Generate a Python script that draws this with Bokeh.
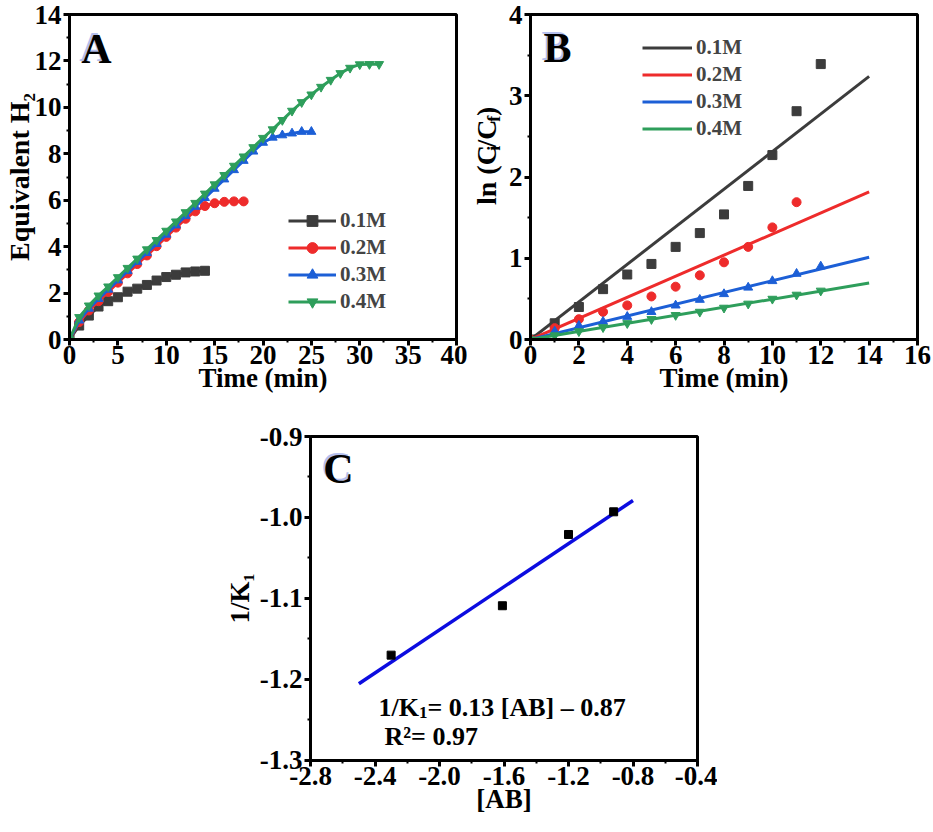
import numpy as np
from bokeh.plotting import figure
from bokeh.models import (Label, Legend, LegendItem, SingleIntervalTicker, Range1d,
                          PrintfTickFormatter)
from bokeh.core.properties import value
from bokeh.layouts import column, row, Spacer
from bokeh.embed import file_html
from bokeh.resources import INLINE

# ---------------- data ----------------
series_labels = ["0.1M", "0.2M", "0.3M", "0.4M"]
series_colors = ["#3c3c3c", "#ee2b2b", "#1c5fd6", "#2e9e5b"]
series_markers = ["square", "circle", "triangle", "inverted_triangle"]

# Panel A: equivalent H2 vs time (min)
time_a_01 = list(range(0, 15))
eq_h2_01 = [0, 0.60, 1.03, 1.42, 1.65, 1.82, 2.06, 2.19, 2.35, 2.54, 2.69, 2.79, 2.89, 2.93, 2.96]
time_a_02 = list(range(0, 19))
eq_h2_02 = [0, 0.75, 1.25, 1.65, 2.05, 2.45, 2.85, 3.25, 3.62, 4.02, 4.42, 4.82, 5.20, 5.52,
            5.75, 5.87, 5.93, 5.95, 5.95]
time_a_03 = list(range(0, 26))
eq_h2_03 = [0, 0.82, 1.33, 1.75, 2.15, 2.55, 2.95, 3.35, 3.73, 4.12, 4.52, 4.92, 5.32, 5.72,
            6.10, 6.50, 6.90, 7.30, 7.70, 8.10, 8.48, 8.70, 8.80, 8.88, 8.95, 8.95]
time_a_04 = list(range(0, 33))
eq_h2_04 = [0, 0.96, 1.46, 1.89, 2.28, 2.68, 3.08, 3.48, 3.88, 4.28, 4.68, 5.08, 5.48, 5.88,
            6.28, 6.68, 7.08, 7.48, 7.88, 8.28, 8.68, 9.05, 9.45, 9.85, 10.22, 10.55, 10.88,
            11.18, 11.47, 11.70, 11.85, 11.86, 11.86]

# Panel B: ln(Ci/Cf) vs time (min)
time_b_01 = list(range(0, 13))
lnc_01 = [0, 0.20, 0.40, 0.62, 0.80, 0.93, 1.14, 1.31, 1.54, 1.89, 2.27, 2.81, 3.39]
time_b_02 = list(range(0, 12))
lnc_02 = [0, 0.14, 0.25, 0.34, 0.42, 0.53, 0.65, 0.79, 0.95, 1.14, 1.38, 1.69]
time_b_03 = list(range(0, 13))
lnc_03 = [0, 0.10, 0.17, 0.22, 0.28, 0.34, 0.42, 0.49, 0.56, 0.64, 0.72, 0.81, 0.90]
time_b_04 = list(range(0, 13))
lnc_04 = [0, 0.05, 0.10, 0.15, 0.20, 0.25, 0.30, 0.34, 0.39, 0.44, 0.50, 0.55, 0.60]
fit_time_b = [0, 14]

# Panel C: 1/K1 vs [AB]
ab_c = [-2.30, -1.61, -1.20, -0.92]
inv_k1_c = [-1.170, -1.109, -1.021, -0.993]
fit_ab_c = [-2.5, -0.8]

FONT = "Liberation Serif"
TICK_SIZE = "27px"
TITLE_SIZE = "27px"

# layout geometry (page pixels)
TOP_H = 413          # height of the top row
FRAME_W = 387


def style(p):
    p.outline_line_color = "black"
    p.outline_line_width = 3
    p.outline_line_alpha = 1
    p.grid.visible = False
    p.background_fill_color = "white"
    p.border_fill_color = "white"
    for ax in p.axis:
        ax.axis_line_width = 3
        ax.major_tick_line_width = 3
        ax.minor_tick_line_width = 2
        ax.major_tick_out = 6
        ax.major_tick_in = 0
        ax.minor_tick_out = 3
        ax.minor_tick_in = 0
        ax.major_label_text_font = FONT
        ax.major_label_text_font_style = "bold"
        ax.major_label_text_font_size = TICK_SIZE
        ax.major_label_text_color = "black"
        ax.axis_label_text_font = FONT
        ax.axis_label_text_font_style = "bold"
        ax.axis_label_text_font_size = TITLE_SIZE
        ax.axis_label_text_color = "black"
    for ax in p.xaxis:
        ax.major_label_standoff = 0
        ax.axis_label_standoff = -4
    for ax in p.yaxis:
        ax.major_label_standoff = 2
        ax.axis_label_standoff = 2


def lab(p, x, y, text, size, angle=0.0, align="left", baseline="alphabetic",
        color="black", xo=0, yo=0):
    p.add_layout(Label(x=x, y=y, text=text, angle=angle, text_font=FONT,
                       text_font_style="bold", text_font_size=f"{size}px",
                       text_align=align, text_baseline=baseline, text_color=color,
                       x_offset=xo, y_offset=yo))


def panel_letter(p, x, y, letter):
    lab(p, x, y, letter, 42, align="center", baseline="middle", color="#b4bfee", xo=-2, yo=2)
    lab(p, x, y, letter, 42, align="center", baseline="middle", color="black")


def strip(width, height):
    s = figure(width=width, height=height, x_range=Range1d(0, width), y_range=Range1d(0, height),
               x_axis_type=None, y_axis_type=None, output_backend="svg", toolbar_location=None,
               min_border=0, outline_line_color=None)
    s.grid.visible = False
    return s


# ---------------- Panel A ----------------
pa = figure(frame_width=FRAME_W, frame_height=325, x_range=Range1d(0, 40), y_range=Range1d(0, 14),
            output_backend="svg", toolbar_location=None,
            min_border_left=68, min_border_right=11, min_border_top=14, min_border_bottom=74)
style(pa)
pa.xaxis.ticker = SingleIntervalTicker(interval=5, num_minor_ticks=2)
pa.yaxis.ticker = SingleIntervalTicker(interval=2, num_minor_ticks=2)
pa.xaxis.axis_label = "Time (min)"
pa.yaxis.axis_label = "Equivalent H\u2082"
pa.yaxis.axis_label_standoff = -3
pa.yaxis.axis_label_text_font_size = "28px"

items_a = []
for tx, vy, c, m, name in zip([time_a_01, time_a_02, time_a_03, time_a_04],
                              [eq_h2_01, eq_h2_02, eq_h2_03, eq_h2_04],
                              series_colors, series_markers, series_labels):
    lr = pa.line(tx, vy, line_color=c, line_width=3)
    sr = pa.scatter(tx, vy, marker=m, size=9, fill_color=c, line_color=c)
    items_a.append(LegendItem(label=name, renderers=[lr, sr]))
leg_a = Legend(items=items_a, location=(219, 24), border_line_color=None,
               background_fill_alpha=0, label_text_font=FONT, label_text_font_style="bold",
               label_text_font_size="21px", glyph_width=48, glyph_height=27, label_height=27,
               spacing=0, padding=0, margin=0, label_standoff=4)
pa.add_layout(leg_a)

ax_px = lambda px: (px - 68) / (FRAME_W / 40)
ay_px = lambda py: (339 - py) / (325 / 14)
panel_letter(pa, ax_px(95), ay_px(48), "A")

# ---------------- Panel B ----------------
pb = figure(frame_width=FRAME_W, frame_height=325, x_range=Range1d(0, 16), y_range=Range1d(0, 4),
            output_backend="svg", toolbar_location=None,
            min_border_left=22, min_border_right=16, min_border_top=14, min_border_bottom=74)
style(pb)
pb.xaxis.ticker = SingleIntervalTicker(interval=2, num_minor_ticks=2)
pb.yaxis.ticker = SingleIntervalTicker(interval=1, num_minor_ticks=2)
pb.xaxis.axis_label = "Time (min)"

items_b = []
for tx, vy, c, m, name in zip([time_b_01, time_b_02, time_b_03, time_b_04],
                              [lnc_01, lnc_02, lnc_03, lnc_04],
                              series_colors, series_markers, series_labels):
    tx_a = np.array(tx, dtype=float)
    vy_a = np.array(vy, dtype=float)
    k = float(np.sum(tx_a * vy_a) / np.sum(tx_a * tx_a))  # least-squares fit through origin
    fx = np.array(fit_time_b, dtype=float)
    lr = pb.line(fx, k * fx, line_color=c, line_width=3)
    pb.scatter(tx, vy, marker=m, size=9, fill_color=c, line_color=c)
    items_b.append(LegendItem(label=name, renderers=[lr]))
leg_b = Legend(items=items_b, location=(112, 197), border_line_color=None,
               background_fill_alpha=0, label_text_font=FONT, label_text_font_style="bold",
               label_text_font_size="21px", glyph_width=50, glyph_height=27, label_height=27,
               spacing=0, padding=0, margin=0, label_standoff=4)
pb.add_layout(leg_b)

bx_px = lambda px: (px - 528) / (FRAME_W / 16)
by_px = lambda py: (339 - py) / (325 / 4)
panel_letter(pb, bx_px(555), by_px(47), "B")

# y title of panel B, in a narrow strip between panels A and B (bottom-to-top pieces)
SB_W = 38
sb = strip(SB_W, TOP_H)
yb = 234.0
# (text, font px, advance in em, column x in strip, gap before, gap after)
pieces_b = [("ln (C", 28, 2.139, 19, 0, 0), ("i", 18, 0.278, 26, 1.5, 2.5),
            ("/C", 28, 1.000, 19, 0, 0), ("f", 18, 0.333, 26, 1.5, 2.0),
            (")", 28, 0.333, 19, 0, 0)]
for txt, size, em, xs, g0, g1 in pieces_b:
    w = em * size
    yb -= g0
    sb.text(x=[xs], y=[TOP_H - (yb - w / 2)], text=[txt], angle=np.pi / 2,
            text_align="center", text_baseline="middle", text_font=value(FONT),
            text_font_style="bold", text_font_size=value(f"{size}px"), text_color="black")
    yb -= w + g1

# ---------------- Panel C ----------------
pc = figure(frame_width=FRAME_W, frame_height=324, x_range=Range1d(-2.8001, -0.4),
            y_range=Range1d(-1.3001, -0.9), output_backend="svg", toolbar_location=None,
            min_border_left=90, min_border_right=20, min_border_top=436 - TOP_H,
            min_border_bottom=66)
style(pc)
pc.xaxis.ticker = SingleIntervalTicker(interval=0.4, num_minor_ticks=2)
pc.yaxis.ticker = SingleIntervalTicker(interval=0.1, num_minor_ticks=2)
pc.xaxis.formatter = PrintfTickFormatter(format="%.1f")
pc.yaxis.formatter = PrintfTickFormatter(format="%.1f")
pc.xaxis.axis_label = "[AB]"
pc.yaxis.axis_label = "1/K\u2081"

slope, intercept = np.polyfit(ab_c, inv_k1_c, 1)
fxc = np.array(fit_ab_c)
pc.line(fxc, slope * fxc + intercept, line_color="#0c0ce0", line_width=3.5)
pc.scatter(ab_c, inv_k1_c, marker="square", size=8, fill_color="black", line_color="black")

cx_px = lambda px: -2.8 + (px - 310) / (FRAME_W / 2.4)
cy_px = lambda py: -0.9 - (py - 436) / (324 / 0.4)
panel_letter(pc, cx_px(338), cy_px(469), "C")
lab(pc, cx_px(378), cy_px(707), "1/K", 26)
lab(pc, cx_px(418.5), cy_px(712), "1", 17)
lab(pc, cx_px(427), cy_px(707), "= 0.13 [AB] \u2013 0.87", 26)
lab(pc, cx_px(384), cy_px(736), "R\u00b2= 0.97", 26)

layout = column(row(pa, sb, pb), row(Spacer(width=220, height=10), pc))
open("out.html", "w").write(file_html(layout, INLINE))
